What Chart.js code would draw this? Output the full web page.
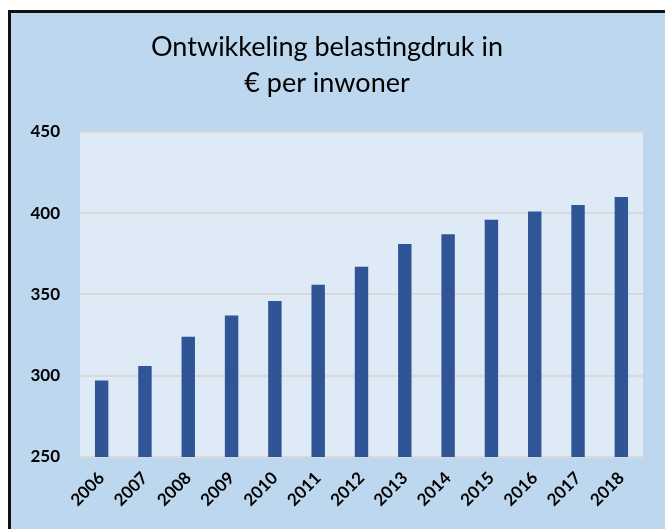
<!DOCTYPE html>
<html>
<head>
<meta charset="utf-8">
<script src="https://cdn.jsdelivr.net/npm/chart.js@4/dist/chart.umd.min.js"></script>
<style>
  html, body { margin: 0; padding: 0; background: #ffffff; width: 665px; height: 529px; overflow: hidden; }
  #frame { position: absolute; left: 8px; top: 10px; width: 700px; height: 600px; background: #bdd7ee; border-left: 3px solid #111; border-top: 3px solid #111; }
  #c { position: absolute; left: 0; top: 0; }
</style>
</head>
<body>
<div id="frame"></div>
<canvas id="c" width="665" height="529"></canvas>
<script>
const titleLines = ["Ontwikkeling belastingdruk in", "€ per inwoner"];
const years = ["2006","2007","2008","2009","2010","2011","2012","2013","2014","2015","2016","2017","2018"];
const values = [297, 306, 324, 337, 346, 356, 367, 381, 387, 396, 401, 405, 410];
const yMin = 250;
const yMax = 450;
const yStep = 50;

const plotBg = {
  id: 'plotBg',
  beforeDraw(chart) {
    const a = chart.chartArea, ctx = chart.ctx;
    ctx.save();
    ctx.fillStyle = '#deeaf6';
    ctx.fillRect(a.left, a.top, a.right - a.left, a.bottom - a.top);
    ctx.restore();
  }
};

new Chart(document.getElementById('c'), {
  type: 'bar',
  data: {
    labels: years,
    datasets: [{
      data: values,
      backgroundColor: '#2f5597',
      borderWidth: 0,
      categoryPercentage: 1,
      barPercentage: 0.31
    }]
  },
  options: {
    responsive: false,
    devicePixelRatio: 1,
    animation: false,
    layout: { padding: { left: 11, right: 22, top: 0, bottom: 0 } },
    plugins: {
      legend: { display: false },
      tooltip: { enabled: false },
      title: {
        display: true,
        text: titleLines,
        color: '#000',
        font: { family: 'Lato', size: 27, weight: 'normal', lineHeight: 1.333 },
        padding: { top: 29, bottom: 31 }
      }
    },
    scales: {
      x: {
        grid: { display: false, drawTicks: false },
        border: { display: true, color: '#d9d9d9', width: 2 },
        ticks: {
          color: '#000',
          font: { family: 'Lato', size: 17, weight: 'bold' },
          maxRotation: 45, minRotation: 45,
          padding: 11
        },
        afterFit(s) { s.height = 72; }
      },
      y: {
        min: yMin, max: yMax,
        grid: { color: '#d9d9d9', lineWidth: 2, drawTicks: false },
        border: { display: false },
        ticks: {
          stepSize: yStep,
          color: '#000',
          font: { family: 'Lato', size: 17, weight: 'bold' },
          padding: 20
        },
        afterFit(s) { s.width = 69; }
      }
    }
  },
  plugins: [plotBg]
});
</script>
</body>
</html>
